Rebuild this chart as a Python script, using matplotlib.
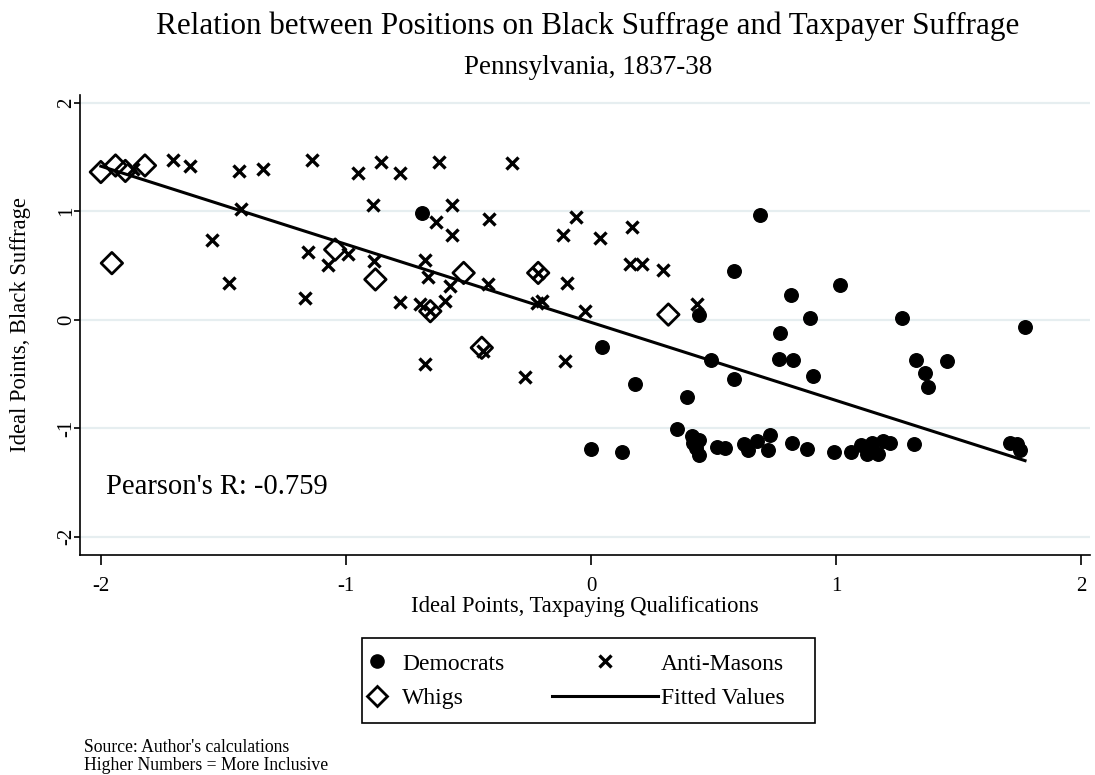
import numpy as np
import matplotlib
matplotlib.use("Agg")
import matplotlib.pyplot as plt
from matplotlib.lines import Line2D
from matplotlib.patches import Rectangle

plt.rcParams['font.family'] = ['Liberation Serif', 'DejaVu Serif']
plt.rcParams['axes.unicode_minus'] = False

# ---- data ----
dem_x = [-0.69, 0.69, 0.583, 0.814, 1.015, 0.44, 0.044, 0.18, 0.39, 0.488, 0.583,
         0.77, 0.768, 0.822, 0.893, 0.907, 0.0, 0.125, 0.352, 0.41, 0.417, 0.428,
         0.44, 0.44, 0.513, 0.546, 0.624, 0.641, 0.676, 0.723, 0.73, 0.818, 0.88,
         0.99, 1.267, 1.77, 1.325, 1.453, 1.362, 1.376, 1.06, 1.10, 1.124, 1.145,
         1.17, 1.19, 1.22, 1.317, 1.71, 1.736, 1.75]
dem_y = [0.98, 0.96, 0.445, 0.23, 0.32, 0.046, -0.25, -0.59, -0.71, -0.375, -0.55,
         -0.12, -0.36, -0.375, 0.015, -0.52, -1.19, -1.22, -1.01, -1.07, -1.14, -1.18,
         -1.25, -1.11, -1.17, -1.18, -1.15, -1.20, -1.12, -1.20, -1.06, -1.14, -1.19,
         -1.22, 0.015, -0.067, -0.375, -0.38, -0.49, -0.62, -1.22, -1.16, -1.24, -1.14,
         -1.24, -1.12, -1.14, -1.15, -1.14, -1.15, -1.20]

whig_x = [-2.00, -1.94, -1.90, -1.82, -1.955, -1.044, -0.88, -0.52, -0.216, -0.656, -0.446, 0.315]
whig_y = [1.36, 1.42, 1.37, 1.42, 0.52, 0.645, 0.37, 0.43, 0.43, 0.077, -0.26, 0.046]

am_x = [-1.87, -1.706, -1.638, -1.435, -1.34, -1.14, -1.43, -1.545, -1.476, -1.155, -1.072,
        -1.166, -0.953, -0.858, -0.78, -0.62, -0.323, -0.89, -0.568, -0.632, -0.568, -0.415,
        -0.06, -0.113, -0.99, -0.884, -0.677, -0.667, -0.575, -0.419, -0.10, -0.78, -0.70,
        -0.595, -0.677, -0.44, -0.27, -0.106, -0.22, -0.20, -0.024, 0.037, 0.166, 0.159,
        0.207, 0.295, 0.431, -0.216, -0.656]
am_y = [1.39, 1.47, 1.42, 1.37, 1.39, 1.47, 1.02, 0.73, 0.34, 0.62, 0.50,
        0.20, 1.35, 1.45, 1.35, 1.45, 1.44, 1.06, 1.06, 0.90, 0.78, 0.93,
        0.95, 0.78, 0.60, 0.54, 0.55, 0.39, 0.31, 0.33, 0.34, 0.16, 0.14,
        0.17, -0.41, -0.29, -0.53, -0.38, 0.15, 0.17, 0.077, 0.75, 0.85, 0.51,
        0.51, 0.46, 0.14, 0.43, 0.077]

# fitted-values line (slope, intercept)
fit_coef = [-0.72, -0.026]

x_ticks = [-2, -1, 0, 1, 2]
y_ticks = [-2, -1, 0, 1, 2]
pearson_text = "Pearson's R: -0.759"

# ---- fit line over the data's x range ----
all_x = np.array(dem_x + whig_x + am_x)
fx = np.linspace(all_x.min(), all_x.max(), 50)
fy = np.polyval(fit_coef, fx)

fig = plt.figure(figsize=(10.95, 7.75), dpi=100)
ax = fig.add_axes([80 / 1095, 1 - 555 / 775, 1010 / 1095, 460 / 775])
ax.set_xlim(-2.085, 2.035)
ax.set_ylim(-2.17, 2.07)

ax.grid(axis='y', color='#e6eef0', linewidth=1.6)
ax.set_axisbelow(True)

ax.scatter(dem_x, dem_y, s=95, marker='o', color='black', zorder=3)
ax.scatter(am_x, am_y, s=75, marker='x', color='black', linewidths=2.4, zorder=3)
ax.scatter(whig_x, whig_y, s=120, marker='D', facecolors='none', edgecolors='black',
           linewidths=2.0, zorder=3)
ax.plot(fx, fy, color='black', linewidth=2.2, zorder=4)

ax.text(-1.98, -1.54, pearson_text, fontsize=20.6, ha='left', va='center')

for s in ['top', 'right']:
    ax.spines[s].set_visible(False)
ax.spines['left'].set_linewidth(1.2)
ax.spines['bottom'].set_linewidth(1.2)
ax.set_xticks(x_ticks)
ax.set_yticks(y_ticks)
ax.set_yticklabels([str(v) for v in y_ticks], rotation=90, va='center')
ax.tick_params(axis='x', labelsize=15, length=7, width=1.2, pad=9)
ax.tick_params(axis='y', labelsize=15, length=4, width=1.2, pad=-1.5)
ax.set_xlabel('Ideal Points, Taxpaying Qualifications', fontsize=16.3, labelpad=0)
ax.set_ylabel('Ideal Points, Black Suffrage', fontsize=16.3, labelpad=19)

fig.text(588 / 1095, 1 - 26 / 775, 'Relation between Positions on Black Suffrage and Taxpayer Suffrage',
         fontsize=22.4, ha='center', va='center')
fig.text(588 / 1095, 1 - 67 / 775, 'Pennsylvania, 1837-38', fontsize=19.5, ha='center', va='center')

# ---- legend ----
fig.patches.append(Rectangle((362 / 1095, 1 - 723 / 775), 453 / 1095, 85 / 775,
                             transform=fig.transFigure, facecolor='white',
                             edgecolor='black', linewidth=1.2))
h_dem = Line2D([], [], marker='o', color='black', linestyle='none', markersize=9.5)
h_whig = Line2D([], [], marker='D', markerfacecolor='none', markeredgecolor='black',
                markeredgewidth=2.0, linestyle='none', markersize=10)
h_am = Line2D([], [], marker='x', color='black', markeredgewidth=2.4, linestyle='none', markersize=8.5)
h_fit = Line2D([], [], color='black', linewidth=2.2)
leg1 = fig.legend([h_dem, h_whig], ['Democrats', 'Whigs'], loc='center left',
                  bbox_to_anchor=(365 / 1095, 1 - 681 / 775), frameon=False, fontsize=17,
                  handlelength=1.0, handletextpad=0.57, labelspacing=0.55, borderpad=0,
                  borderaxespad=0)
leg2 = fig.legend([h_am, h_fit], ['Anti-Masons', 'Fitted Values'], loc='center left',
                  bbox_to_anchor=(552 / 1095, 1 - 681 / 775), frameon=False, fontsize=17,
                  handlelength=4.5, handletextpad=0.12, labelspacing=0.55, borderpad=0,
                  borderaxespad=0)

fig.text(84 / 1095, 1 - 748 / 775, "Source: Author's calculations", fontsize=12.7, ha='left', va='center')
fig.text(84 / 1095, 1 - 765 / 775, "Higher Numbers = More Inclusive", fontsize=12.7, ha='left', va='center')

fig.savefig('out.png', dpi=100)
